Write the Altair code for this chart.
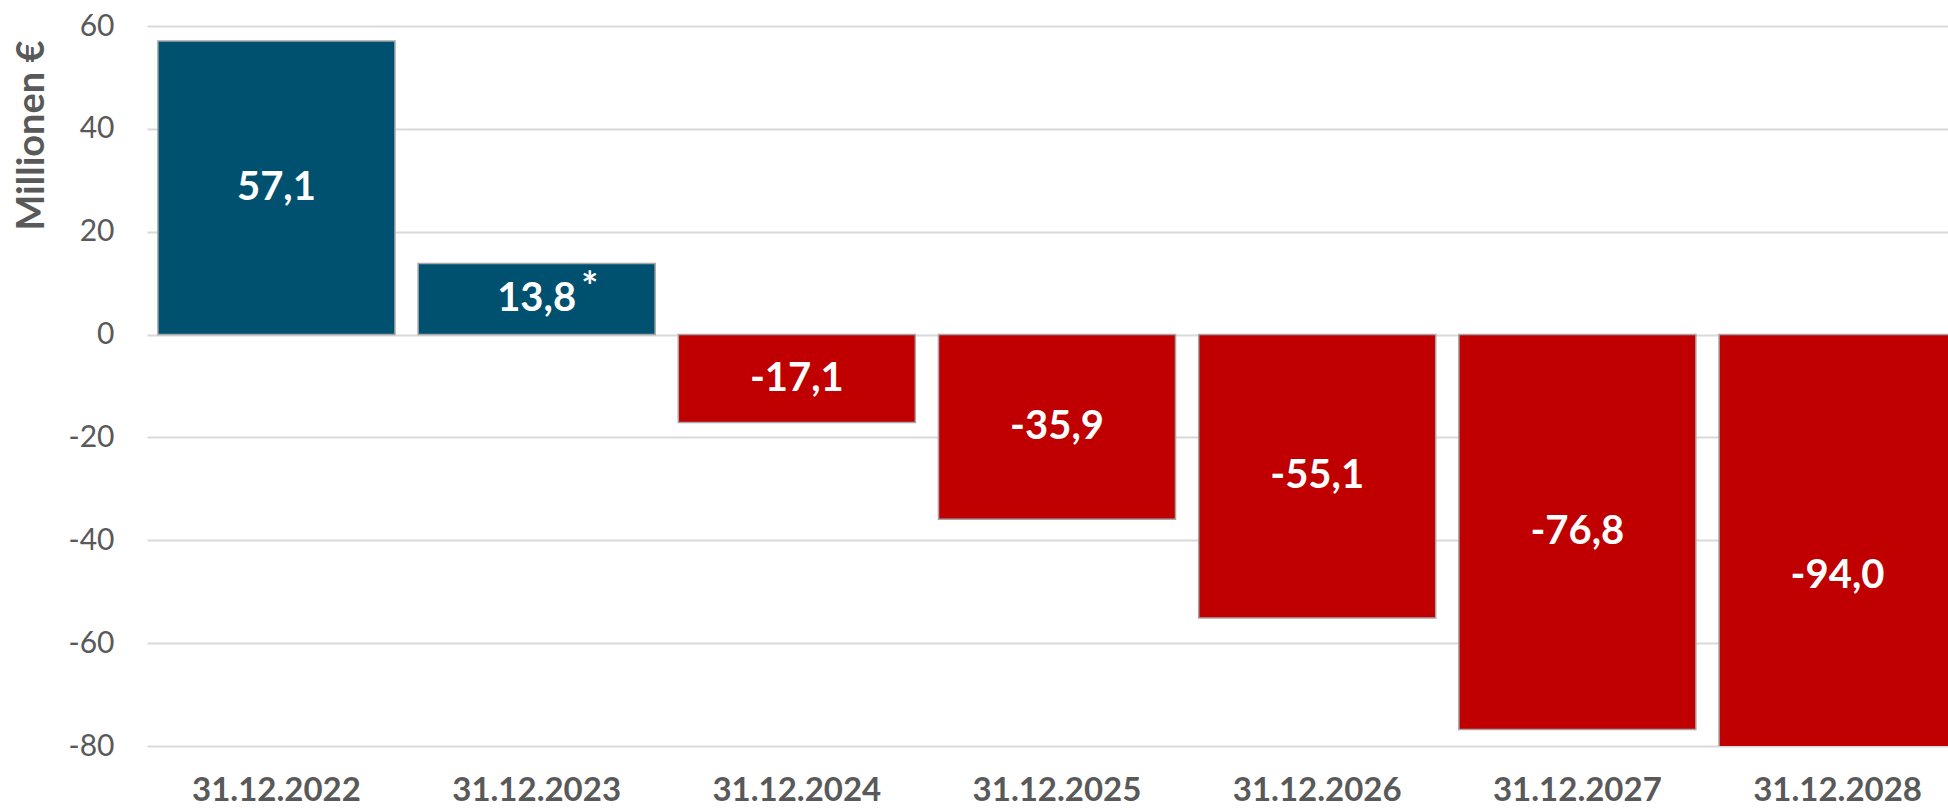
import altair as alt
import pandas as pd

categories = ["31.12.2022", "31.12.2023", "31.12.2024", "31.12.2025",
              "31.12.2026", "31.12.2027", "31.12.2028"]
values = [57.1, 13.8, -17.1, -35.9, -55.1, -76.8, -94.0]
asterisk_on = ["31.12.2023"]
y_ticks = [60, 40, 20, 0, -20, -40, -60, -80]

df = pd.DataFrame({
    "cat": categories,
    "val": values,
})
df["half"] = df["val"] / 2
df["label"] = [f"{v:.1f}".replace(".", ",") for v in values]
df["sign"] = ["pos" if v >= 0 else "neg" for v in values]
df["star"] = ["*" if c in asterisk_on else "" for c in categories]

FONT = "Lato"
GREY = "#595959"

xscale = alt.Scale(paddingInner=0.089, paddingOuter=0.042, range=[0, 1820])

x = alt.X("cat:N", sort=categories, title=None, scale=xscale,
          axis=alt.Axis(labelFont=FONT, labelFontSize=33, labelFontWeight="bold",
                        labelColor=GREY, labelAngle=0, ticks=False, domain=False,
                        labelPadding=28, grid=False))

yscale = alt.Scale(domain=[-80, 60], nice=False, zero=False)

bars = alt.Chart(df).mark_bar(clip=True, stroke="#A6A6A6", strokeWidth=1.5).encode(
    x=x,
    y=alt.Y("val:Q", scale=yscale,
            axis=alt.Axis(values=y_ticks, labelFont=FONT, labelFontSize=30,
                          labelColor=GREY, ticks=False, domain=False,
                          labelExpr="datum.value < 0 ? '-' + abs(datum.value) : '' + datum.value",
                          labelPadding=33, gridColor="#D9D9D9", gridWidth=2,
                          title="Millionen €", titleFont=FONT, titleFontSize=38,
                          titleFontWeight="bold", titleColor=GREY,
                          titleAngle=-90, titleAlign="center", titleBaseline="middle",
                          titleX=-115, titleY=109)),
    y2=alt.datum(0),
    color=alt.Color("sign:N", scale=alt.Scale(domain=["pos", "neg"],
                                               range=["#00506F", "#C00000"]),
                    legend=None),
)

labels = alt.Chart(df).mark_text(font=FONT, fontSize=40, fontWeight="bold",
                                 color="white", baseline="middle", align="center").encode(
    x=alt.X("cat:N", sort=categories, scale=xscale),
    y=alt.Y("half:Q", scale=yscale),
    text="label:N",
)

stars = alt.Chart(df).transform_filter(alt.datum.star != "").mark_text(
    font=FONT, fontSize=40, fontWeight="bold", color="white",
    baseline="middle", align="center", dx=53, dy=-10).encode(
    x=alt.X("cat:N", sort=categories, scale=xscale),
    y=alt.Y("half:Q", scale=yscale),
    text="star:N",
)

chart = (bars + labels + stars).properties(
    width=1801, height=720,
    autosize=alt.AutoSizeParams(type="none"),
    padding={"left": 147, "top": 26, "right": 0, "bottom": 63},
    background="white",
).configure_view(stroke=None)

chart.save("out.html", embed_options={"renderer": "svg", "actions": False})
